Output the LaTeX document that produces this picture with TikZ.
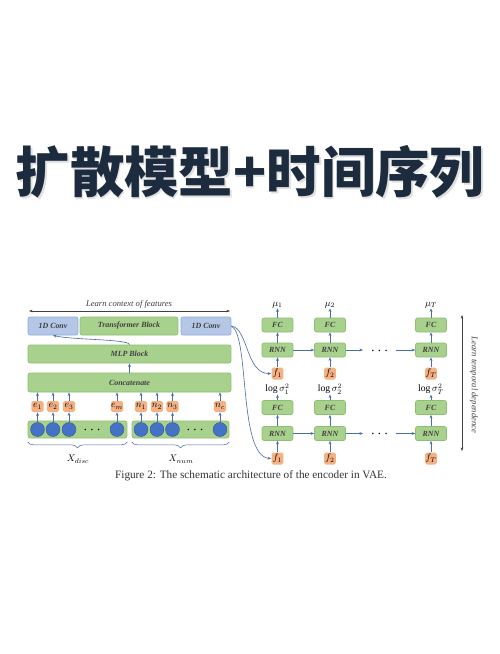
\documentclass[tikz,border=0pt]{standalone}
\usepackage{fontspec}
\usepackage{graphicx}
\setmainfont{Liberation Serif}
\newfontfamily\cjk{Noto Sans CJK SC}
\usetikzlibrary{arrows.meta,decorations.pathreplacing}
\newcommand{\tinymath}[1]{\scalebox{0.55}{\fontsize{10}{10}\selectfont$#1$}}

\definecolor{boxgreen}{HTML}{A9D18E}
\definecolor{edgegreen}{HTML}{8CBF6E}
\definecolor{boxblue}{HTML}{B4C7E7}
\definecolor{edgeblue}{HTML}{8FAADC}
\definecolor{boxorange}{HTML}{F4B183}
\definecolor{dotblue}{HTML}{4472C4}
\definecolor{arrowblue}{HTML}{4A6EA8}
\definecolor{titleink}{HTML}{1C2B3E}

\tikzset{
  greenbox/.style={draw=edgegreen, fill=boxgreen, rounded corners=1.2pt, inner sep=0pt,
    font=\fontsize{4.5}{5}\selectfont\bfseries\itshape, text=black!75},
  bluebox/.style={greenbox, draw=edgeblue, fill=boxblue},
  featbox/.style={fill=boxorange, rounded corners=1pt, inner sep=0pt,
    minimum width=0.25cm, minimum height=0.22cm},
  invar/.style={circle, fill=dotblue, draw=dotblue!70!black, line width=0.2pt,
    minimum size=0.28cm, inner sep=0pt},
  link/.style={-{Stealth[length=2pt,width=1.6pt]}, arrowblue, line width=0.35pt},
  note/.style={font=\fontsize{4.9}{5}\selectfont\itshape, text=black!75},
  mathlab/.style={inner sep=0pt},
}

\begin{document}
\begin{tikzpicture}[x=0.02cm, y=-0.02cm]
        \useasboundingbox[fill=white] (0,0) rectangle (500,654);

        % title
        \node[font=\cjk\bfseries\fontsize{31}{31}\selectfont, text=black!12] (shadow) at (251.5,174) {扩散模型+时间序列};
        \node[font=\cjk\bfseries\fontsize{31}{31}\selectfont, text=titleink] (title) at (250,172) {扩散模型+时间序列};

        % left part
        \coordinate (ctxl) at (29,311);
        \coordinate (ctxr) at (230,311);
        \draw[{Stealth[length=2pt]}-{Stealth[length=2pt]}, black!75, line width=0.4pt] (ctxl) -- (ctxr);
        \node[note] (ctx) at (129,304) {Learn context of features};

        \node[bluebox, minimum width=1.0cm, minimum height=0.36cm] (conva) at (53,326) {1D Conv};
        \node[greenbox, minimum width=1.96cm, minimum height=0.36cm] (trans) at (129,326) {Transformer Block};
        \node[bluebox, minimum width=1.0cm, minimum height=0.36cm] (convb) at (206,326) {1D Conv};
        \node[greenbox, minimum width=4.06cm, minimum height=0.36cm] (mlp) at (129.5,354) {MLP Block};
        \node[greenbox, minimum width=4.06cm, minimum height=0.38cm] (concat) at (129.5,382.5) {Concatenate};

        \draw[link] (concat) -- (mlp);
        \draw[link] (mlp.north) .. controls (129,339) and (72,340) .. (conva.south);

        \node[greenbox, minimum width=1.98cm, minimum height=0.34cm] (discbar) at (77.5,429.5) {};
        \node[greenbox, minimum width=1.94cm, minimum height=0.34cm] (numbar) at (180.5,429.5) {};

        \foreach \x/\lab/\nm in {37.5/e_1/e1, 53/e_2/e2, 69/e_3/e3, 117/e_m/em,
                                 141/n_1/n1, 157/n_2/n2, 172.5/n_3/n3, 220/n_c/nc} {
          \node[invar] (c\nm) at (\x,429.5) {};
          \node[featbox] (\nm) at (\x,406.5) {\tinymath{\lab}};
          \draw[link] (c\nm) -- (\nm);
          \draw[link] (\nm) -- (\nm |- concat.south);
        }
        \node[font=\fontsize{8}{8}\selectfont] (ddots) at (92,430) {$\cdots$};
        \node[font=\fontsize{8}{8}\selectfont] (ndots) at (195,430) {$\cdots$};

        \draw[arrowblue, line width=0.3pt, decorate, decoration={brace, amplitude=0.12cm}]
          ([yshift=-2pt]discbar.south east) -- ([yshift=-2pt]discbar.south west);
        \draw[arrowblue, line width=0.3pt, decorate, decoration={brace, amplitude=0.12cm}]
          ([yshift=-2pt]numbar.south east) -- ([yshift=-2pt]numbar.south west);
        \node[mathlab] (xdisc) at (78,459) {\tinymath{X_{disc}}};
        \node[mathlab] (xnum) at (181,459) {\tinymath{X_{num}}};

        % right part
        \foreach \x/\k in {277.5/1, 330/2, 431/T} {
          \node[greenbox, minimum width=0.62cm, minimum height=0.28cm] (fcu\k) at (\x,325) {FC};
          \node[greenbox, minimum width=0.62cm, minimum height=0.28cm] (rnnu\k) at (\x,350) {RNN};
          \node[featbox, minimum width=0.24cm, minimum height=0.24cm] (fu\k) at (\x,373.5) {\tinymath{f_{\k}}};
          \node[mathlab] (mu\k) at (\x,305) {\tinymath{\mu_{\k}}};
          \node[mathlab] (sig\k) at (\x,389) {\tinymath{\log\sigma^{2}_{\k}}};
          \node[greenbox, minimum width=0.62cm, minimum height=0.28cm] (fcl\k) at (\x,407.5) {FC};
          \node[greenbox, minimum width=0.62cm, minimum height=0.28cm] (rnnl\k) at (\x,433.5) {RNN};
          \node[featbox, minimum width=0.24cm, minimum height=0.24cm] (fl\k) at (\x,458.5) {\tinymath{f_{\k}}};
          \draw[link] (fu\k) -- (rnnu\k);
          \draw[link] (rnnu\k) -- (fcu\k);
          \draw[link] (fcu\k) -- (mu\k);
          \draw[link] (fl\k) -- (rnnl\k);
          \draw[link] (rnnl\k) -- (fcl\k);
          \draw[link] (fcl\k) -- (sig\k);
        }

        \coordinate (uend) at (363,350);
        \coordinate (ustart) at (396,350);
        \coordinate (lend) at (363,433.5);
        \coordinate (lstart) at (396,433.5);
        \draw[link] (rnnu1) -- (rnnu2);
        \draw[link] (rnnu2) -- (uend);
        \draw[link] (ustart) -- (rnnuT);
        \draw[link] (rnnl1) -- (rnnl2);
        \draw[link] (rnnl2) -- (lend);
        \draw[link] (lstart) -- (rnnlT);
        \node[font=\fontsize{8}{8}\selectfont] (udots) at (379.5,351) {$\cdots$};
        \node[font=\fontsize{8}{8}\selectfont] (ldots) at (379.5,434.5) {$\cdots$};

        \draw[link] (convb.east) .. controls (248,328) and (246,374) .. (fu1.west);
        \draw[link] (convb.east) .. controls (250,335) and (238,456) .. (fl1.west);

        \coordinate (tmpt) at (462,315);
        \coordinate (tmpb) at (462,451);
        \draw[{Stealth[length=2pt]}-{Stealth[length=2pt]}, black!75, line width=0.4pt] (tmpb) -- (tmpt);
        \node[note, rotate=-90] (tmp) at (474,385) {Learn temporal dependence};

        \node[font=\fontsize{6.4}{7}\selectfont, text=black!80] (caption) at (251,476)
          {Figure 2: The schematic architecture of the encoder in VAE.};
      \end{tikzpicture}
\end{document}
